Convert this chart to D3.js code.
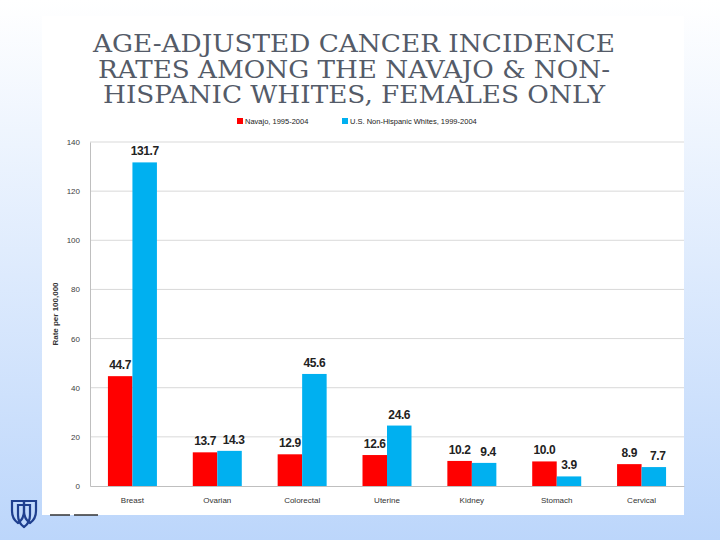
<!DOCTYPE html>
<html>
<head>
<meta charset="utf-8">
<script src="https://cdn.jsdelivr.net/npm/d3@7"></script>
<style>
  body { margin: 0; }
  svg { display: block; }
</style>
</head>
<body>
<svg width="720" height="540"></svg>
<script>
const categories = ["Breast", "Ovarian", "Colorectal", "Uterine", "Kidney", "Stomach", "Cervical"];
const navajo = [44.7, 13.7, 12.9, 12.6, 10.2, 10.0, 8.9];
const whites = [131.7, 14.3, 45.6, 24.6, 9.4, 3.9, 7.7];
const seriesNames = ["Navajo, 1995-2004", "U.S. Non-Hispanic Whites, 1999-2004"];
const yTicks = [0, 20, 40, 60, 80, 100, 120, 140];
const titleLines = ["AGE-ADJUSTED CANCER INCIDENCE", "RATES AMONG THE NAVAJO & NON-", "HISPANIC WHITES, FEMALES ONLY"];

const svg = d3.select("svg");
const width = +svg.attr("width");
const height = +svg.attr("height");
const colors = ["#ff0000", "#00b0f0"];

// BACKGROUND
const defs = svg.append("defs");
const grad = defs.append("linearGradient")
  .attr("id", "bg").attr("x1", 0).attr("y1", 0).attr("x2", 0).attr("y2", 1);
grad.append("stop").attr("offset", "0%").attr("stop-color", "#ffffff");
grad.append("stop").attr("offset", "100%").attr("stop-color", "#bcd6fb");
svg.append("rect").attr("width", width).attr("height", height).attr("fill", "url(#bg)");

// white slide panel
svg.append("rect")
  .attr("x", 42).attr("y", 16).attr("width", 642).attr("height", 499)
  .attr("fill", "#ffffff");

// TITLE
const titleWidths = [522, 512, 502]; // widths measured off the slide
svg.append("g")
  .selectAll("text")
  .data(titleLines)
  .enter()
  .append("text")
  .attr("x", 354)
  .attr("y", (d, i) => 52 + i * 25.5)
  .attr("text-anchor", "middle")
  .attr("font-family", "'DejaVu Serif', serif")
  .attr("font-size", "24px")
  .attr("textLength", (d, i) => titleWidths[i])
  .attr("lengthAdjust", "spacingAndGlyphs")
  .attr("fill", "#545b68")
  .text(d => d);

// SCALES
const margin = { left: 90, right: 684, top: 142, bottom: 486 };
const x0 = d3.scaleBand()
  .domain(categories)
  .range([margin.left, margin.right]);
const x1 = d3.scaleBand()
  .domain([0, 1])
  .range([0, 49])
  .padding(0);
const y = d3.scaleLinear()
  .domain([0, 140])
  .range([margin.bottom, margin.top]);

// GRID
svg.append("g")
  .selectAll("line")
  .data(yTicks.slice(1))
  .enter()
  .append("line")
  .attr("x1", margin.left).attr("x2", margin.right)
  .attr("y1", d => y(d)).attr("y2", d => y(d))
  .attr("stroke", "#d9d9d9").attr("stroke-width", 1);

// Y AXIS
const yAxis = svg.append("g")
  .attr("transform", `translate(${margin.left},0)`)
  .call(d3.axisLeft(y).tickValues(yTicks).tickSize(0).tickPadding(10));
yAxis.select(".domain").attr("stroke", "#bfbfbf");
yAxis.selectAll("text")
  .attr("font-family", "'Liberation Sans', Arial, sans-serif")
  .attr("font-size", "8px")
  .attr("fill", "#404040");

svg.append("text")
  .attr("transform", `translate(58,${(margin.top + margin.bottom) / 2}) rotate(-90)`)
  .attr("text-anchor", "middle")
  .attr("font-family", "'Liberation Sans', Arial, sans-serif")
  .attr("font-weight", "bold")
  .attr("font-size", "8px")
  .attr("fill", "#333")
  .text("Rate per 100,000");

// BARS
const groups = svg.append("g")
  .selectAll("g")
  .data(categories.map((c, i) => ({ cat: c, vals: [navajo[i], whites[i]] })))
  .enter()
  .append("g")
  .attr("transform", d => `translate(${x0(d.cat) + x0.bandwidth() / 2 - 24.5},0)`);

groups.selectAll("rect")
  .data(d => d.vals)
  .enter()
  .append("rect")
  .attr("x", (d, i) => x1(i))
  .attr("y", d => y(d))
  .attr("width", x1.bandwidth())
  .attr("height", d => y(0) - y(d))
  .attr("fill", (d, i) => colors[i]);

// labels: when the two values are close, nudge the blue one right (as the slide does)
groups.each(function(g) {
  const close = Math.abs(g.vals[0] - g.vals[1]) < 2;
  d3.select(this).selectAll("text")
    .data(g.vals)
    .enter()
    .append("text")
    .attr("x", (d, i) => x1(i) + x1.bandwidth() / 2 + (close && i === 1 ? 4 : 0))
    .attr("y", d => y(d) - 7)
    .attr("text-anchor", "middle")
    .attr("font-family", "'Liberation Sans', sans-serif")
    .attr("font-weight", "bold")
    .attr("font-size", "12px")
    .attr("letter-spacing", "-0.4px")
    .attr("fill", "#222")
    .text(d => d.toFixed(1));
});

// X AXIS
const xAxis = svg.append("g")
  .attr("transform", `translate(0,${margin.bottom})`)
  .call(d3.axisBottom(x0).tickSize(0).tickPadding(11));
xAxis.select(".domain").attr("stroke", "#bfbfbf");
xAxis.selectAll("text")
  .attr("font-family", "'Liberation Sans', Arial, sans-serif")
  .attr("font-size", "8px")
  .attr("fill", "#333");

// LEGEND
const legend = svg.append("g").attr("transform", "translate(237,124)");
const legendX = [0, 105];
seriesNames.forEach((name, i) => {
  legend.append("rect")
    .attr("x", legendX[i]).attr("y", -6)
    .attr("width", 6).attr("height", 6)
    .attr("fill", colors[i]);
  legend.append("text")
    .attr("x", legendX[i] + 8).attr("y", 0)
    .attr("font-family", "'Liberation Sans', Arial, sans-serif")
    .attr("font-size", "7.5px")
    .attr("fill", "#222")
    .text(name);
});

// LOGO (shields, bottom left)
const logo = svg.append("g").attr("transform", "translate(12,501)");
const shield = "M0,0 L12,0 L12,10 Q12,18 6,22 Q0,18 0,10 Z";
[[0, 0], [12, 0], [6, 4]].forEach(([dx, dy]) => {
  logo.append("path")
    .attr("d", shield)
    .attr("transform", `translate(${dx},${dy})`)
    .attr("fill", "none")
    .attr("stroke", "#1f3f8f")
    .attr("stroke-width", 2.2);
});
logo.append("line").attr("x1", 38).attr("x2", 58).attr("y1", 14).attr("y2", 14)
  .attr("stroke", "#333").attr("stroke-width", 1.5);
logo.append("line").attr("x1", 62).attr("x2", 86).attr("y1", 14).attr("y2", 14)
  .attr("stroke", "#333").attr("stroke-width", 1.5);
</script>
</body>
</html>
